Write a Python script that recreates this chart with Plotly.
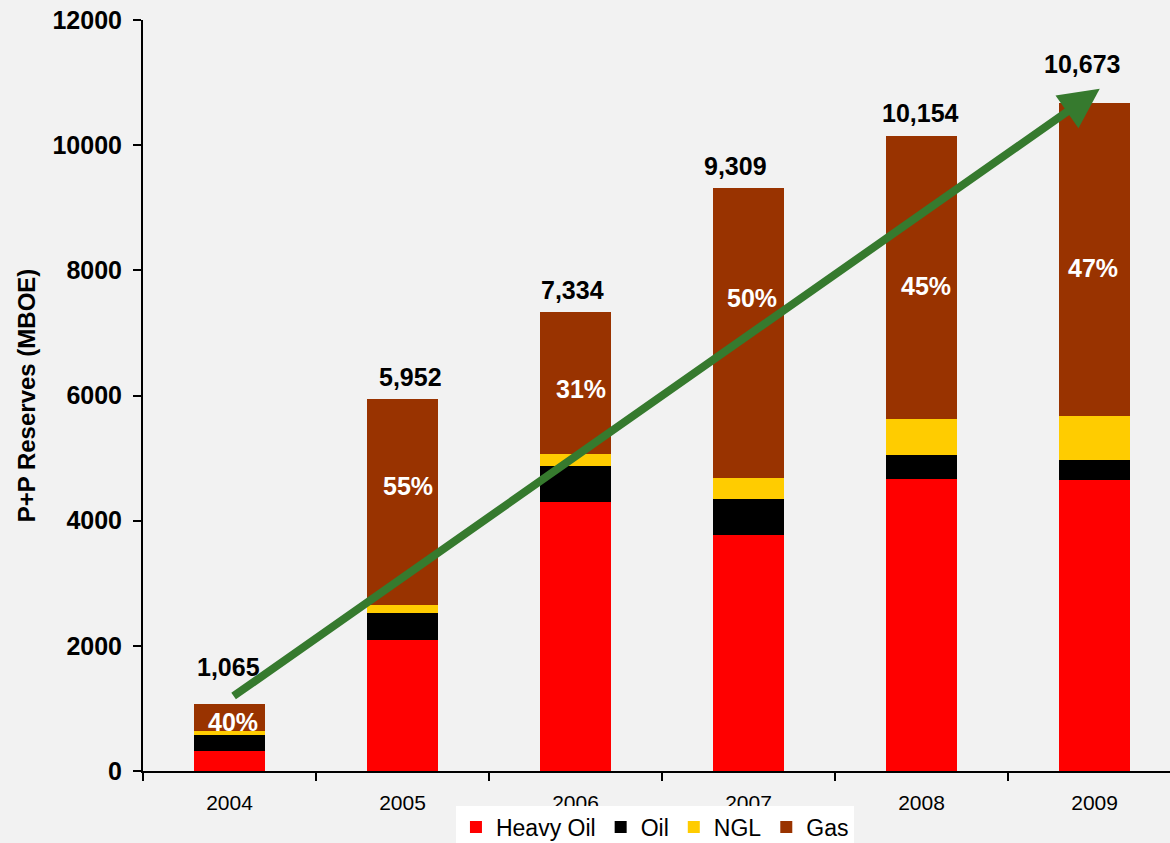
import plotly.graph_objects as go

years = ["2004", "2005", "2006", "2007", "2008", "2009"]
heavy_oil = [320, 2090, 4300, 3770, 4665, 4650]
oil = [255, 435, 570, 575, 385, 320]
ngl = [64, 130, 195, 335, 575, 703]
gas = [426, 3297, 2269, 4629, 4529, 5000]
totals = [1065, 5952, 7334, 9309, 10154, 10673]
gas_pct = ["40%", "55%", "31%", "50%", "45%", "47%"]
y_ticks = [0, 2000, 4000, 6000, 8000, 10000, 12000]

# trend arrow (tail -> head), in category index / MBOE units
arrow_tail = (0.015, 1180)
arrow_head = (5.03, 10900)

# label nudges (pixels)
total_xshift = [-1, 8, -3, -13, -1, -13]
total_yshift = [37, 22, 22, 22, 23, 39]
pct_xshift = [3, 5, 5, 3, 4, -2]
pct_yshift = [-4, 16, -6, 35, -9, -8]

FONT = "Liberation Sans, Arial, sans-serif"
BG = "#F2F2F2"

fig = go.Figure()
series = [("Heavy Oil", heavy_oil, "#FF0000"), ("Oil", oil, "#000000"),
          ("NGL", ngl, "#FFCC00"), ("Gas", gas, "#993300")]
for name, vals, col in series:
    fig.add_trace(go.Bar(x=years, y=vals, name=name, marker=dict(color=col, line=dict(width=0)),
                         width=0.41))

annotations = []
for i, yr in enumerate(years):
    annotations.append(dict(x=i, y=totals[i], xref="x", yref="y", text=f"{totals[i]:,}",
                            showarrow=False, xshift=total_xshift[i], yshift=total_yshift[i],
                            font=dict(family=FONT, size=25, color="#000000", weight="bold")))
    base = heavy_oil[i] + oil[i] + ngl[i]
    mid = base + gas[i] / 2
    annotations.append(dict(x=i, y=mid, xref="x", yref="y", text=gas_pct[i],
                            showarrow=False, xshift=pct_xshift[i], yshift=pct_yshift[i],
                            font=dict(family=FONT, size=25, color="#FFFFFF", weight="bold")))
annotations.append(dict(x=arrow_head[0], y=arrow_head[1], xref="x", yref="y",
                        ax=arrow_tail[0], ay=arrow_tail[1], axref="x", ayref="y",
                        text="", showarrow=True, arrowhead=2, arrowsize=1, arrowwidth=8,
                        arrowcolor="#367A2E", standoff=0))

fig.update_layout(
    width=1170, height=843,
    barmode="stack",
    paper_bgcolor=BG, plot_bgcolor=BG,
    margin=dict(l=143, r=0, t=20, b=72, autoexpand=False),
    font=dict(family=FONT, color="#000000"),
    annotations=annotations,
    legend=dict(orientation="h", x=0.4985, xanchor="center", y=-0.046, yanchor="top",
                bgcolor="#FFFFFF", font=dict(family=FONT, size=23, color="#000000"),
                traceorder="normal", itemclick=False),
    bargap=0.59,
)
fig.update_xaxes(type="category", range=[-0.5, 5.436], showline=True, linecolor="#000000",
                 linewidth=2, ticks="outside", tickson="boundaries", ticklen=8, tickwidth=2,
                 tickcolor="#000000", showgrid=False, zeroline=False, ticklabelstandoff=12,
                 tickfont=dict(family=FONT, size=21, color="#000000"))
fig.update_yaxes(range=[0, 12000], tickvals=y_ticks, ticktext=[str(v) for v in y_ticks],
                 showline=True, linecolor="#000000", linewidth=2, ticks="outside", ticklen=8,
                 tickwidth=2, tickcolor="#000000", showgrid=False, zeroline=False,
                 ticklabelstandoff=6,
                 tickfont=dict(family=FONT, size=25, color="#000000", weight="bold"),
                 title=dict(text="P+P Reserves (MBOE)", standoff=10,
                            font=dict(family=FONT, size=24, color="#000000", weight="bold")))

fig.write_html("out.html", config={"displayModeBar": False},
               post_script="document.body.style.margin='0';document.body.style.background='#F2F2F2';")
